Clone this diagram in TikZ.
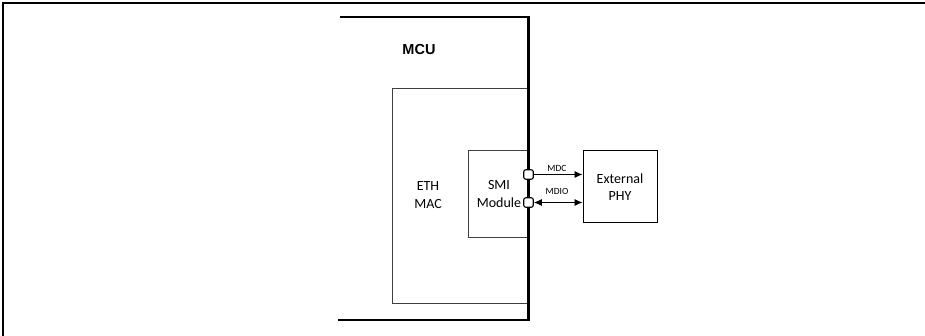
\documentclass[tikz,border=0pt]{standalone}
\usepackage{fontspec}
\newfontfamily\calfont{Carlito}
\newfontfamily\arialfont{Liberation Sans}
\usetikzlibrary{arrows.meta}
\begin{document}
\begin{tikzpicture}[x=1pt,y=-1pt,
  thinbox/.style={draw=black!75,line width=1pt,rectangle,inner sep=0pt},
  port/.style={draw=black,fill=white,line width=1.1pt,rectangle,rounded corners=2pt,minimum size=9.5pt,inner sep=0pt},
  lbl/.style={font=\calfont\fontsize{14}{17.5}\selectfont,align=center,inner sep=0pt},
  sig/.style={font=\calfont\fontsize{9.5}{10}\selectfont,inner sep=0pt},
  wall/.style={line width=2.4pt},
  arr/.style={line width=0.9pt,-{Latex[length=8pt,width=7pt]}},
  darr/.style={line width=0.9pt,{Latex[length=8pt,width=7pt]}-{Latex[length=8pt,width=7pt]}}]
\useasboundingbox (0,0) rectangle (925,336);
% page frame
\coordinate (fr1) at (3,336);
\coordinate (fr2) at (3,3);
\coordinate (fr3) at (925,3);
\draw[line width=1.2pt] (fr1) -- (fr2) -- (fr3);
% inner boxes
\node[thinbox,minimum width=136pt,minimum height=214pt] (eth) at (460,196) {};
\node[thinbox,minimum width=60pt,minimum height=87pt] (smi) at (498,194.5) {};
\node[thinbox,draw=black,minimum width=74pt,minimum height=72pt] (phy) at (620,187) {};
% MCU outline
\coordinate (m1) at (340,17);
\coordinate (m2) at (528.5,17);
\coordinate (m3) at (528.5,320);
\coordinate (m4) at (338,320);
\draw[wall,line join=miter] (m1) -- (m2) -- (m3) -- (m4);
\node[font=\arialfont\bfseries\fontsize{14.5}{16}\selectfont,inner sep=0pt] (mcu) at (419,50) {MCU};
% labels
\node[lbl] (ethl) at (428,195) {ETH\\MAC};
\node[lbl] (smil) at (499,194) {SMI\\Module};
\node[lbl] (phyl) at (620,187) {External\\PHY};
% ports
\node[port] (p1) at (528.5,174.5) {};
\node[port] (p2) at (528.5,202.5) {};
% signals
\draw[arr] (p1.east) -- (p1.east -| phy.west);
\draw[darr] (p2.east) -- (p2.east -| phy.west);
\node[sig] (mdc) at (557,168) {MDC};
\node[sig] (mdio) at (557,191.5) {MDIO};
\end{tikzpicture}
\end{document}
